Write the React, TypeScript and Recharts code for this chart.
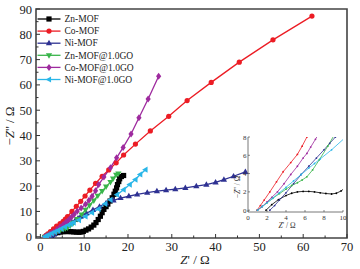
import { LineChart, Line, XAxis, YAxis, ReferenceArea, Legend } from "recharts";

type Pt = [number, number];

const FONT = '"Liberation Serif", "Times New Roman", serif';

const names = ["Zn-MOF", "Co-MOF", "Ni-MOF", "Zn-MOF@1.0GO", "Co-MOF@1.0GO", "Ni-MOF@1.0GO"];
const colors = ["#000000", "#ec1c24", "#2e3192", "#39b54a", "#9e2a9e", "#29b6e8"];
const shapes = ["square", "circle", "triUp", "triDown", "diamond", "triLeft"];

// Z' , -Z'' pairs (main + inset)
const znMOF: Pt[] = [
  [1.9, 0], [2.5, 0.6], [3.2, 1.15], [4, 1.6], [4.6, 1.85], [5.2, 2.0], [5.8, 2.05], [6.4, 2.05],
  [7, 2.0], [7.6, 1.9], [8.2, 1.82], [8.8, 1.77], [9.3, 1.85], [9.8, 2.1], [10.4, 2.6], [11, 3.1],
  [11.6, 3.8], [12.2, 4.6], [12.7, 5.6], [13.2, 6.8], [13.7, 8.1], [14.1, 9.5], [14.5, 10.8],
  [15, 11.9], [15.4, 12.9], [15.9, 14.1], [16.4, 15.4], [16.8, 16.8], [17.1, 18], [17.4, 19.3],
  [17.6, 20.6], [17.9, 21.8], [18.1, 22.9], [18.5, 23.8], [19, 24.2],
];
const coMOF: Pt[] = [
  [0.95, 0], [1.3, 0.5], [1.7, 1.1], [2.3, 2], [3, 3.1], [3.7, 4.2], [4.5, 5.2], [5.2, 6.1],
  [5.7, 7], [6.2, 8], [7.2, 10], [8.2, 12], [9.2, 14], [10.2, 16.1], [11.3, 18.4], [12.6, 21.1],
  [14.1, 23.9], [15.6, 26.4], [17.3, 29.2], [19, 32.3], [21.7, 36.6], [25.1, 41.8], [29.3, 47.6],
  [33.5, 53.8], [39, 61], [45.4, 69], [53.1, 77.8], [62, 87.2],
];
const niMOF: Pt[] = [
  [2.3, 0], [2.8, 0.5], [3.3, 1.1], [4, 1.9], [4.8, 2.9], [5.6, 3.9], [6.4, 4.8], [7.2, 5.7],
  [8, 6.6], [8.6, 7.3], [9.2, 8], [10.5, 9.3], [12, 10.6], [13.5, 11.9], [15, 13.3], [16.7, 14.4],
  [18.3, 15.3], [20.2, 16], [22.1, 16.7], [24.4, 17.4], [26.6, 18], [28.7, 18.4], [30.8, 18.8],
  [33.1, 19.3], [35.6, 20], [37.9, 20.6], [40, 21.5], [41.9, 22.6], [44.1, 23.9], [46.8, 25.6],
];
const znGO: Pt[] = [
  [1, 0], [1.5, 0.4], [2, 0.8], [2.6, 1.3], [3.3, 1.8], [4, 2.3], [4.6, 2.7], [5.2, 3], [5.7, 3.3],
  [6.2, 3.65], [6.8, 4.4], [7.5, 5.5], [8.4, 7], [9.4, 8.8], [10.3, 10.6], [11.2, 12.4],
  [12.2, 14.3], [13.1, 16.2], [14.1, 18], [15, 19.8], [16, 21.6], [16.6, 23], [17.3, 24.5], [17.8, 25],
];
const coGO: Pt[] = [
  [1, 0], [1.5, 0.4], [2, 0.9], [2.5, 1.4], [3.1, 2], [3.8, 2.9], [4.5, 3.9], [5.2, 4.8], [5.8, 5.7],
  [6.2, 6.2], [6.6, 6.9], [7.1, 7.75], [7.7, 8.8], [8.4, 10.1], [9.3, 11.4], [10.3, 12.8],
  [11.1, 14.4], [11.8, 16], [12.6, 18.2], [13.3, 20.6], [14.5, 23.6], [16, 27.3], [17.4, 31.2],
  [18.9, 35.3], [20.7, 40.6], [22.5, 47], [24.6, 54.4], [27, 63.4],
];
const niGO: Pt[] = [
  [1, 0], [1.5, 0.4], [2, 0.8], [2.6, 1.3], [3.3, 1.9], [4, 2.5], [4.8, 3.2], [5.6, 3.9], [6.4, 4.6],
  [7, 5.1], [7.6, 5.6], [8.8, 6.6], [10.3, 8], [11.8, 9.5], [13.3, 11], [14.8, 13], [16, 14.6],
  [17.5, 16.6], [19, 18.6], [20.4, 20.6], [21.7, 22.6], [22.8, 24.6], [24, 26.5],
];

const seriesData = [znMOF, coMOF, niMOF, znGO, coGO, niGO];

const xTicks = [0, 5, 10, 15, 20, 25, 30, 35, 40, 45, 50, 55, 60, 65, 70];
const yTicks = [0, 5, 10, 15, 20, 25, 30, 35, 40, 45, 50, 55, 60, 65, 70, 75, 80, 85, 90];
const insetXTicks = [0, 2, 4, 6, 8, 10];
const insetYTicks = [0, 2, 4, 6, 8];

const toRows = (pts: Pt[]) => pts.map(([x, y]) => ({ x, y }));

function Marker({ cx, cy, shape, color, s }: { cx: number; cy: number; shape: string; color: string; s: number }) {
  if (cx == null || cy == null) return null;
  switch (shape) {
    case "square":
      return <rect x={cx - s} y={cy - s} width={2 * s} height={2 * s} fill={color} />;
    case "circle":
      return <circle cx={cx} cy={cy} r={s} fill={color} />;
    case "triUp":
      return <polygon points={`${cx},${cy - s * 1.3} ${cx - s * 1.2},${cy + s * 0.8} ${cx + s * 1.2},${cy + s * 0.8}`} fill={color} />;
    case "triDown":
      return <polygon points={`${cx},${cy + s * 1.3} ${cx - s * 1.2},${cy - s * 0.8} ${cx + s * 1.2},${cy - s * 0.8}`} fill={color} />;
    case "triLeft":
      return <polygon points={`${cx - s * 1.3},${cy} ${cx + s * 0.8},${cy - s * 1.2} ${cx + s * 0.8},${cy + s * 1.2}`} fill={color} />;
    default:
      return <polygon points={`${cx},${cy - s * 1.35} ${cx + s},${cy} ${cx},${cy + s * 1.35} ${cx - s},${cy}`} fill={color} />;
  }
}

function MainXTick(props: any) {
  const { x, y, payload } = props;
  const v = payload.value;
  const major = v % 10 === 0;
  return (
    <g>
      <line x1={x} x2={x} y1={y} y2={y - (major ? 4 : 2.5)} stroke="#333" strokeWidth={1} />
      {major && (
        <text x={x} y={y + 13} textAnchor="middle" fontSize={12.5} fontFamily={FONT} fill="#222">
          {v}
        </text>
      )}
    </g>
  );
}

function MainYTick(props: any) {
  const { x, y, payload } = props;
  const v = payload.value;
  const major = v % 10 === 0;
  return (
    <g>
      <line x1={x} x2={x + (major ? 4 : 2.5)} y1={y} y2={y} stroke="#333" strokeWidth={1} />
      {major && (
        <text x={x - 4} y={y + 4.5} textAnchor="end" fontSize={12.5} fontFamily={FONT} fill="#222">
          {v}
        </text>
      )}
    </g>
  );
}

function InsetXTick(props: any) {
  const { x, y, payload } = props;
  return (
    <g>
      <line x1={x} x2={x} y1={y} y2={y - 2} stroke="#555" strokeWidth={0.7} />
      <text x={x} y={y + 7.5} textAnchor="middle" fontSize={7} fontFamily={FONT} fill="#333">
        {payload.value}
      </text>
    </g>
  );
}

function InsetYTick(props: any) {
  const { x, y, payload } = props;
  return (
    <g>
      <line x1={x} x2={x + 2} y1={y} y2={y} stroke="#555" strokeWidth={0.7} />
      <text x={x - 1.5} y={y + 2.5} textAnchor="end" fontSize={7} fontFamily={FONT} fill="#333">
        {payload.value}
      </text>
    </g>
  );
}

function LegendBox() {
  return (
    <svg width={150} height={90} style={{ display: "block" }}>
      {names.map((n, i) => {
        const cy = 19 + i * 12.1;
        return (
          <g key={n}>
            <line x1={37.5} x2={60.5} y1={cy} y2={cy} stroke={colors[i]} strokeWidth={1.3} />
            <Marker cx={49} cy={cy} shape={shapes[i]} color={colors[i]} s={2.6} />
            <text x={64.5} y={cy + 3.2} fontSize={9.5} fontFamily={FONT} fill="#222">
              {n}
            </text>
          </g>
        );
      })}
    </svg>
  );
}

export default function App() {
  return (
    <div style={{ position: "absolute", left: 0, top: 0, width: 360, height: 269, background: "#fff", fontFamily: FONT }}>
      <LineChart width={360} height={269} margin={{ top: 9, right: 13, bottom: 0, left: 0 }}>
        <XAxis
          type="number"
          dataKey="x"
          domain={[-1, 70]}
          allowDataOverflow
          ticks={xTicks}
          interval={0}
          height={31}
          axisLine={false}
          tickLine={false}
          tickSize={0}
          tickMargin={0}
          tick={<MainXTick />}
        />
        <YAxis
          type="number"
          dataKey="y"
          domain={[-0.5, 90]}
          allowDataOverflow
          ticks={yTicks}
          interval={0}
          width={36}
          axisLine={false}
          tickLine={false}
          tickSize={0}
          tickMargin={0}
          tick={<MainYTick />}
        />
        {seriesData.map((pts, i) => (
          <Line
            key={names[i]}
            data={toRows(pts)}
            dataKey="y"
            name={names[i]}
            stroke={colors[i]}
            strokeWidth={1.3}
            isAnimationActive={false}
            dot={(p: any) => (
              <Marker key={`${names[i]}-${p.index}`} cx={p.cx} cy={p.cy} shape={shapes[i]} color={colors[i]} s={2.6} />
            )}
            activeDot={false}
          />
        ))}
        <ReferenceArea x1={-1} x2={70} y1={-0.5} y2={90} fill="none" stroke="#444" strokeWidth={1.6} />
        <Legend
          layout="vertical"
          align="center"
          verticalAlign="middle"
          wrapperStyle={{ left: 0, top: 0, width: 150, height: 90 }}
          content={() => <LegendBox />}
        />
      </LineChart>

      <div style={{ position: "absolute", left: 215, top: 128 }}>
        <LineChart width={133} height={107} margin={{ top: 9, right: 5, bottom: 0, left: 0 }}>
          <XAxis
            type="number"
            dataKey="x"
            domain={[0, 10]}
            allowDataOverflow
            ticks={insetXTicks}
            interval={0}
            height={23}
            axisLine={{ stroke: "#555", strokeWidth: 0.8 }}
            tickLine={false}
            tickSize={0}
            tickMargin={0}
            tick={<InsetXTick />}
          />
          <YAxis
            type="number"
            dataKey="y"
            domain={[-0.2, 8]}
            allowDataOverflow
            ticks={insetYTicks}
            interval={0}
            width={33}
            axisLine={{ stroke: "#555", strokeWidth: 0.8 }}
            tickLine={false}
            tickSize={0}
            tickMargin={0}
            tick={<InsetYTick />}
          />
          {seriesData.map((pts, i) => (
            <Line
              key={names[i]}
              data={toRows(pts)}
              dataKey="y"
              stroke={colors[i]}
              strokeWidth={0.8}
              isAnimationActive={false}
              dot={{ r: 0.9, fill: colors[i], stroke: "none" }}
              activeDot={false}
            />
          ))}
        </LineChart>
      </div>

      <div style={{ position: "absolute", left: 195, top: 260, transform: "translate(-50%, -50%)", fontSize: 13, whiteSpace: "nowrap", color: "#222" }}>
        <i>Z</i>' / Ω
      </div>
      <div style={{ position: "absolute", left: 10, top: 126, transform: "translate(-50%, -50%) rotate(-90deg)", fontSize: 13, whiteSpace: "nowrap", color: "#222" }}>
        −<i>Z</i>'' / Ω
      </div>
      <div style={{ position: "absolute", left: 287, top: 225, transform: "translate(-50%, -50%)", fontSize: 7.5, whiteSpace: "nowrap", color: "#333" }}>
        <i>Z</i>' / Ω
      </div>
      <div style={{ position: "absolute", left: 237, top: 187, transform: "translate(-50%, -50%) rotate(-90deg)", fontSize: 7.5, whiteSpace: "nowrap", color: "#333" }}>
        −<i>Z</i>'' / Ω
      </div>
    </div>
  );
}
